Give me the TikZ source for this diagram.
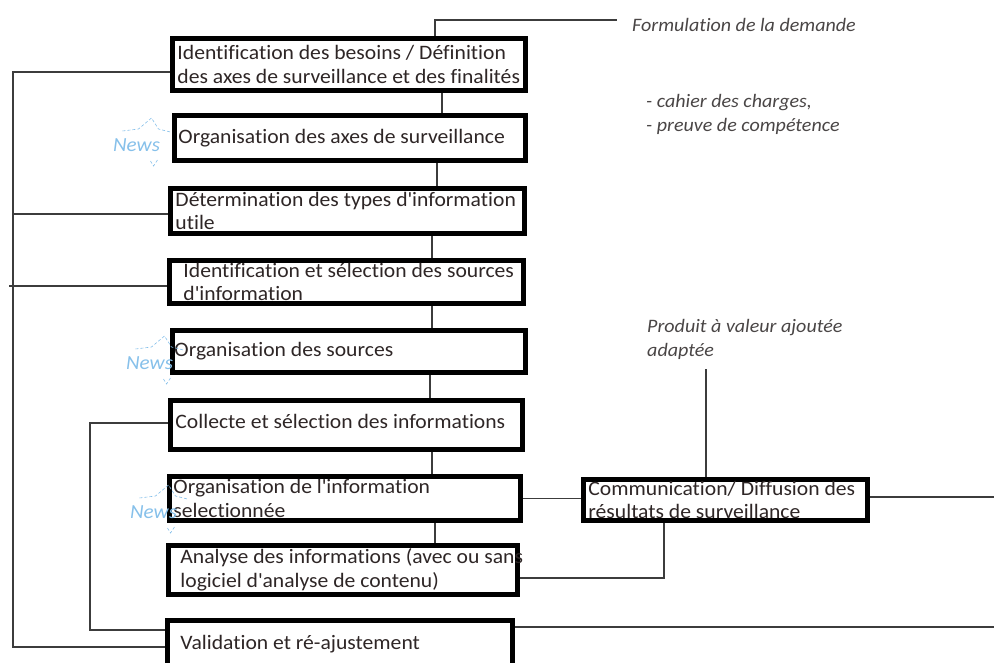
\documentclass[tikz,border=0pt]{standalone}
\usepackage{fontspec}
\setmainfont{Carlito}[FakeStretch=1.055, Ligatures=NoCommon]
\usepackage{xcolor}
\usepackage{tikz}
\usetikzlibrary{positioning,calc}

\definecolor{inkdark}{HTML}{2E2626}
\definecolor{inkgray}{HTML}{4A4646}
\definecolor{linegray}{HTML}{3C3C3C}
\definecolor{newsblue}{HTML}{86C0EA}

\newcommand{\apos}{\textquotesingle}

\tikzset{
    stepbox/.style={rectangle, draw=black, line width=5.5pt, fill=white, inner sep=0pt},
    boxtext/.style={anchor=west, align=left, inner sep=0pt, text=inkdark,
        font=\fontsize{20.5}{23.5}\selectfont},
    remark/.style={anchor=west, align=left, inner sep=0pt, text=inkgray,
        font=\fontsize{19}{24}\selectfont\itshape},
    link/.style={draw=linegray, line width=1.3pt},
    newstag/.style={inner sep=0pt, text=newsblue, font=\fontsize{20}{20}\selectfont\itshape},
    newsline/.style={draw=newsblue, line width=0.6pt, densely dashed},
    newsmark/.pic={
        \node[newstag] (-n) at (0,0) {News};
        \draw[newsline] (-14,-14) -- (2,-16) -- (15,-27) -- (22,-16) -- (34,-13);
        \draw[newsline] (14,16) -- (17,21) -- (21,15);
    }
}

\begin{document}
\begin{tikzpicture}[x=1pt, y=-1pt]
    \useasboundingbox (0,0) rectangle (994,662);
    \clip (0,0) rectangle (994,662);

    % boxes of the chain
    \node[stepbox, minimum width=353pt, minimum height=52pt] (b1) at (349,64.5) {};
    \node[stepbox, minimum width=351pt, minimum height=45pt] (b2) at (350,138) {};
    \node[stepbox, minimum width=354pt, minimum height=45pt] (b3) at (347.5,211) {};
    \node[stepbox, minimum width=354pt, minimum height=43pt] (b4) at (346.5,282) {};
    \node[stepbox, minimum width=353pt, minimum height=42pt] (b5) at (349,351.5) {};
    \node[stepbox, minimum width=352pt, minimum height=49pt] (b6) at (346.5,425) {};
    \node[stepbox, minimum width=351pt, minimum height=44pt] (b7) at (345,498.5) {};
    \node[stepbox, minimum width=349pt, minimum height=49pt] (b8) at (343,570) {};
    \node[stepbox, minimum width=345pt, minimum height=47pt] (b9) at (340,644) {};
    \node[stepbox, minimum width=284pt, minimum height=41pt] (b10) at (725.5,500) {};

    % texts of the boxes
    \node[boxtext] (t1) at ([xshift=7.5pt]b1.west)
        {Identification des besoins / Définition\\des axes de surveillance et des finalités};
    \node[boxtext] (t2) at ([xshift=6.5pt]b2.west) {Organisation des axes de surveillance};
    \node[boxtext] (t3) at ([xshift=7.5pt]b3.west) {Détermination des types d\apos information\\utile};
    \node[boxtext] (t4) at ([xshift=16.5pt]b4.west)
        {Identification et sélection des sources\\d\apos information};
    \node[boxtext] (t5) at ([xshift=4.5pt]b5.west) {Organisation des sources};
    \node[boxtext] (t6) at ([xshift=7.5pt, yshift=4pt]b6.west) {Collecte et sélection des informations};
    \node[boxtext] (t7) at ([xshift=6.5pt]b7.west) {Organisation de l\apos information\\selectionnée};
    \node[boxtext] (t8) at ([xshift=14.5pt]b8.west)
        {Analyse des informations (avec ou sans\\logiciel d\apos analyse de contenu)};
    \node[boxtext] (t9) at ([xshift=15.5pt]b9.west) {Validation et ré-ajustement};
    \node[boxtext] (t10) at ([xshift=7.5pt]b10.west)
        {Communication/ Diffusion des\\résultats de surveillance};

    % side notes
    \node[remark] (form) at (632,25) {Formulation de la demande};
    \node[remark] (cahier) at (646,114) {- cahier des charges,\\- preuve de compétence};
    \node[remark] (produit) at (647,339) {Produit à valeur ajoutée\\adaptée};

    % news marks
    \pic (news2) at (136.5,145) {newsmark};
    \pic (news5) at (149.5,363) {newsmark};
    \pic (news7) at (153.5,512) {newsmark};

    % spine between the boxes
    \foreach \a/\b/\x in {b1/b2/442, b2/b3/437, b3/b4/432, b4/b5/432, b5/b6/430, b6/b7/432, b7/b8/435} {
        \coordinate (spine) at (\x,0);
        \draw[link] (\a.south -| spine) -- (\b.north -| spine);
    }

    % top line to the demand
    \coordinate (formx) at (435,20);
    \coordinate (formtip) at (617,20);
    \draw[link] (b1.north -| formx) -- (formx) -- (formtip);

    % outer rail on the left
    \coordinate (railtop) at (13,72);
    \coordinate (railbot) at (13,647);
    \coordinate (rail3) at (13,214);
    \coordinate (rail4) at (9,286);
    \draw[link] (railtop -| b1.west) -- (railtop) -- (railbot) -- (railbot -| b9.west);
    \draw[link] (rail3) -- (rail3 -| b3.west);
    \draw[link] (rail4) -- (rail4 -| b4.west);

    % inner loop
    \coordinate (loopa) at (90,423);
    \coordinate (loopb) at (90,630);
    \draw[link] (loopa -| b6.west) -- (loopa) -- (loopb) -- (loopb -| b9.west);

    % right side
    \draw[link] (b7.east) -- (b7.east -| b10.west);
    \coordinate (prodfoot) at (706,369);
    \draw[link] (prodfoot) -- (prodfoot |- b10.north);
    \coordinate (diffx) at (664,578);
    \draw[link] (b10.south -| diffx) -- (diffx) -- (diffx -| b8.east);
    \coordinate (edge10) at (994,497);
    \draw[link] (edge10 -| b10.east) -- (edge10);
    \coordinate (edge9) at (994,627);
    \draw[link] (edge9 -| b9.east) -- (edge9);
\end{tikzpicture}
\end{document}
